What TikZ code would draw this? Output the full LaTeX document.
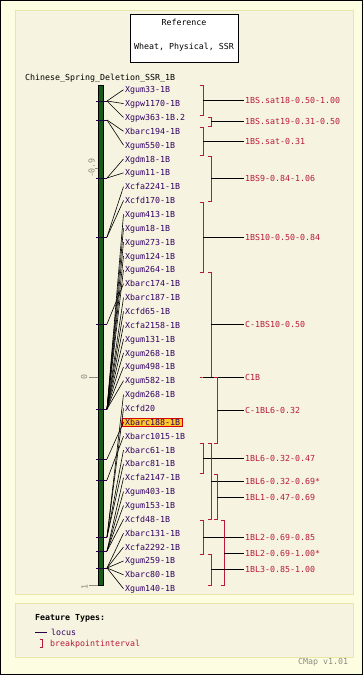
\documentclass[tikz,border=0pt]{standalone}
\usepackage{fontspec}
\setmonofont{DejaVu Sans Mono}
\usetikzlibrary{positioning,fit,backgrounds}
\definecolor{pagebg}{RGB}{253,253,226}
\definecolor{panelbg}{RGB}{246,244,224}
\definecolor{panelborder}{RGB}{234,230,170}
\definecolor{chromgreen}{RGB}{22,92,22}
\definecolor{locusink}{RGB}{50,0,100}
\definecolor{tickink}{RGB}{35,0,70}
\definecolor{bpiink}{RGB}{185,25,60}
\definecolor{axisgrey}{RGB}{140,140,130}
\definecolor{hilitefill}{RGB}{255,200,40}

\begin{document}
\begin{tikzpicture}[
    x=1pt, y=-1pt,
    font=\ttfamily\fontsize{8.3}{9}\selectfont,
    panel/.style={draw=panelborder, fill=panelbg, line width=1pt},
    refbox/.style={draw=black, fill=white, line width=0.8pt, minimum width=108pt, minimum height=48pt, inner sep=0pt},
    txt/.style={inner sep=0pt, text height=6pt, text depth=0pt},
    locus/.style={txt, anchor=west, inner xsep=1.5pt, text=locusink},
    bpilabel/.style={txt, anchor=west, inner xsep=1pt, text=bpiink},
    chrom/.style={draw=black, fill=chromgreen, line width=0.6pt, minimum width=5pt, minimum height=500pt, inner sep=0pt},
    marktick/.style={draw=tickink, line width=0.8pt},
    fan/.style={draw=black, line width=0.6pt},
    bpi/.style={draw=bpiink, line width=0.8pt},
    conn/.style={draw=black, line width=0.8pt},
    axistick/.style={draw=axisgrey, line width=0.8pt},
    axislbl/.style={txt, text=axisgrey, rotate=90},
    hilite/.style={draw=red!85!black, fill=hilitefill, line width=0.8pt, inner sep=0.8pt}
]
\useasboundingbox (0,0) rectangle (363,675);

% Page and panels
\begin{scope}[on background layer]
\fill[pagebg] (0,0) rectangle (363,675);
\draw[panel] (15.5,10.5) rectangle (353.5,594);
\draw[panel] (15.5,603) rectangle (353.5,657);
\end{scope}
\draw[black, line width=1pt] (0.5,0.5) rectangle (362.5,674.5);

% Reference box
\node[refbox] (ref_box) at (184,38) {};
\node[txt] (ref_title) at (184,22) {Reference};
\node[txt] (ref_sub) at (184,46) {Wheat, Physical, SSR};

% Map title
\node[txt, anchor=west] (map_title) at (25,77) {Chinese\_Spring\_Deletion\_SSR\_1B};

% Axis ticks
\draw[axistick] (95,168) -- (100,168);
\draw[axistick] (89,377) -- (100,377);
\draw[axistick] (89,585) -- (100,585);
\node[axislbl] (axis_a) at (91.5,168) {-0.9};
\node[axislbl] (axis_b) at (84,377) {0};
\node[axislbl] (axis_c) at (84.5,587) {1};

% Chromosome bar
\node[chrom] (chrom) at (100.5,335) {};

% Loci
\foreach \lname [count=\li] in {Xgum33-1B, Xgpw1170-1B, Xgpw363-1B.2, Xbarc194-1B, Xgum550-1B,
    Xgdm18-1B, Xgum11-1B, Xcfa2241-1B, Xcfd170-1B, Xgum413-1B, Xgum18-1B, Xgum273-1B,
    Xgum124-1B, Xgum264-1B, Xbarc174-1B, Xbarc187-1B, Xcfd65-1B, Xcfa2158-1B, Xgum131-1B,
    Xgum268-1B, Xgum498-1B, Xgum582-1B, Xgdm268-1B, Xcfd20, Xbarc188-1B, Xbarc1015-1B,
    Xbarc61-1B, Xbarc81-1B, Xcfa2147-1B, Xgum403-1B, Xgum153-1B, Xcfd48-1B, Xbarc131-1B,
    Xcfa2292-1B, Xgum259-1B, Xbarc80-1B, Xgum140-1B}
  \node[locus] (locus_\li) at (123.5, {89.7+(\li-1)*13.86}) {\lname};

% Highlighted locus
\begin{scope}[on background layer]
\node[hilite, fit=(locus_25)] (hilite_box) {};
\end{scope}

% Marker positions on the bar
\foreach \mname/\my in {m1/101, m2/120, m3/178, m4/237, m5/324, m6/409,
    m7/459, m8/480, m9/537, m10/551, m11/568} {
  \coordinate (mk_\mname) at (107,\my);
  \draw[marktick] (96,\my) -- (mk_\mname);
}

% Marker to locus lines
\foreach \mname/\loci in {m1/{1,2,3}, m2/{4,5}, m3/{6,7}, m4/{8,9}, m5/{15},
    m6/{10,11,12,13,14,16,17,18,19,20,21,22}, m7/{25}, m8/{26},
    m9/{23,24,27,28}, m10/{29,30,31,32}, m11/{33,34,35,36,37}}
  \foreach \li in \loci
    \draw[fan] (mk_\mname) -- (locus_\li.west);

% Breakpoint intervals
\foreach \bx/\btop/\bbot/\bmid/\bname/\btext in {
    203/85/115/100/sat18/1BS.sat18-0.50-1.00,
    211/117/126/121/sat19/1BS.sat19-0.31-0.50,
    203/127/155/141/sat/1BS.sat-0.31,
    211/156/201/178/bs9/1BS9-0.84-1.06,
    203/202/272/237/bs10/1BS10-0.50-0.84,
    211/272/377/324/cbs10/C-1BS10-0.50,
    203/377/377/377/c1b/C1B,
    217/377/443/410/cbl6/C-1BL6-0.32,
    203/443/473/458/bl6a/1BL6-0.32-0.47,
    211/443/519/481/bl6b/1BL6-0.32-0.69*,
    217/474/519/497/bl1/1BL1-0.47-0.69,
    203/520/554/537/bl2a/1BL2-0.69-0.85,
    224/520/585/553/bl2b/1BL2-0.69-1.00*,
    211/554/585/569/bl3/1BL3-0.85-1.00} {
  \draw[bpi] (\bx-3,\btop) -- (\bx,\btop) -- (\bx,\bbot) -- (\bx-3,\bbot);
  \coordinate (bk_\bname) at (\bx,\bmid);
  \node[bpilabel] (bp_\bname) at (244,\bmid) {\btext};
  \draw[conn] (bk_\bname) -- (bp_\bname.west);
}

% Legend
\node[txt, anchor=west, font=\ttfamily\bfseries\fontsize{8.3}{9}\selectfont] (legend_title) at (35,617) {Feature Types:};
\coordinate (legend_line) at (35,632);
\node[locus, inner xsep=0pt] (legend_locus) at (51,632) {locus};
\draw[marktick] (legend_line) -- ([xshift=-4pt]legend_locus.west);
\draw[bpi] (39.5,639) -- (42.5,639) -- (42.5,647) -- (39.5,647);
\node[bpilabel, inner xsep=0pt] (legend_bpi) at (50,643) {breakpointinterval};
\node[txt, anchor=west, text=axisgrey] (version) at (298,661) {CMap v1.01};

\end{tikzpicture}
\end{document}
